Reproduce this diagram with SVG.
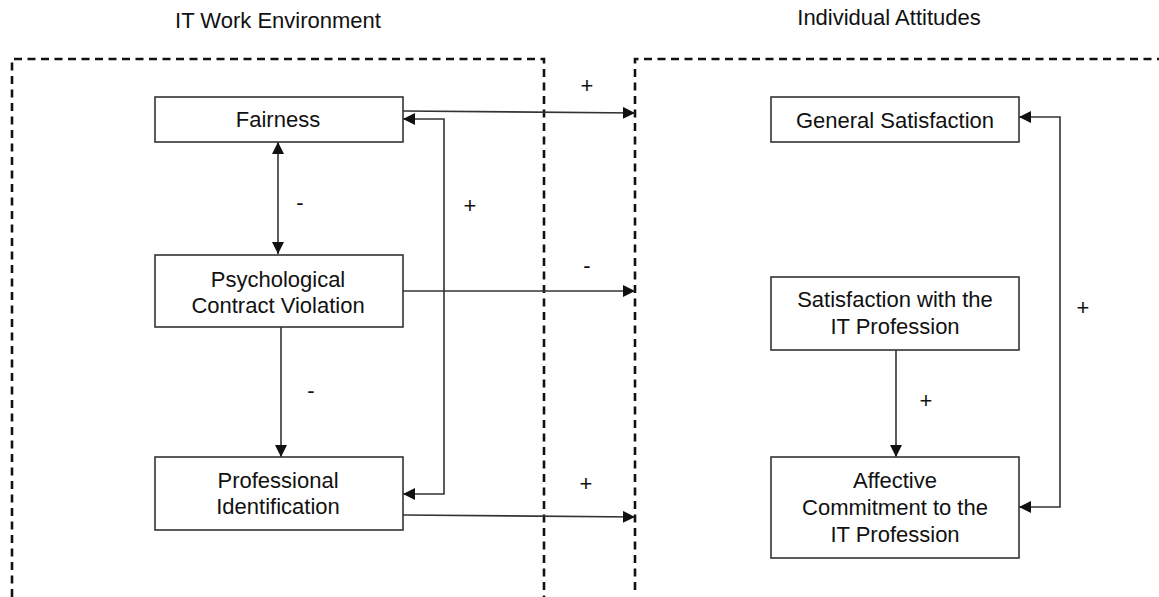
<svg xmlns="http://www.w3.org/2000/svg" width="1159" height="597" viewBox="0 0 1159 597">
<defs>
<style>
.box{fill:#fff;stroke:#333;stroke-width:1.6}
.t{font-family:"Liberation Sans",Arial,sans-serif;font-size:22px;fill:#111;text-anchor:middle}
.lbl{font-family:"Liberation Sans",Arial,sans-serif;font-size:22px;fill:#111;text-anchor:middle}
.dash{fill:none;stroke:#111;stroke-width:2.6;stroke-dasharray:8,5.5}
.c{fill:none;stroke:#333;stroke-width:1.6}
</style>
<marker id="ah" markerUnits="userSpaceOnUse" markerWidth="13" markerHeight="12" refX="12" refY="6" orient="auto-start-reverse">
<path d="M0,0 L12,6 L0,12 z" fill="#111"/>
</marker>
</defs>
<rect width="1159" height="597" fill="#fff"/>
<g id="regions">
<path class="dash" d="M12,597 V59 H544 V597"/>
<path class="dash" d="M635,590 V59 H1159"/>
<text class="t" x="278" y="28">IT Work Environment</text>
<text class="t" x="889" y="25">Individual Attitudes</text>
</g>
<g id="connectors">
<path class="c" d="M278,142 V254" marker-start="url(#ah)" marker-end="url(#ah)"/>
<path class="c" d="M281,327 V457" marker-end="url(#ah)"/>
<path class="c" d="M403,494 H444 V119 H403" marker-start="url(#ah)" marker-end="url(#ah)"/>
<path class="c" d="M403,111 L635,113" marker-end="url(#ah)"/>
<path class="c" d="M403,291 H635" marker-end="url(#ah)"/>
<path class="c" d="M403,515 L635,517" marker-end="url(#ah)"/>
<path class="c" d="M896,350 V457" marker-end="url(#ah)"/>
<path class="c" d="M1019,117 H1060 V507 H1019" marker-start="url(#ah)" marker-end="url(#ah)"/>
<text class="lbl" x="300" y="210">-</text>
<text class="lbl" x="311" y="398">-</text>
<text class="lbl" x="470" y="213">+</text>
<text class="lbl" x="587" y="93">+</text>
<text class="lbl" x="587" y="273">-</text>
<text class="lbl" x="586" y="491">+</text>
<text class="lbl" x="926" y="408">+</text>
<text class="lbl" x="1083" y="315">+</text>
</g>
<g id="fairness">
<rect class="box" x="155" y="97" width="248" height="45"/>
<text class="t" x="278" y="127">Fairness</text>
</g>
<g id="pcv">
<rect class="box" x="155" y="255" width="248" height="72"/>
<text class="t" x="278" y="287">Psychological</text>
<text class="t" x="278" y="313">Contract Violation</text>
</g>
<g id="pi">
<rect class="box" x="155" y="457" width="248" height="73"/>
<text class="t" x="278" y="488">Professional</text>
<text class="t" x="278" y="514">Identification</text>
</g>
<g id="gs">
<rect class="box" x="771" y="97" width="248" height="45"/>
<text class="t" x="895" y="128">General Satisfaction</text>
</g>
<g id="sitp">
<rect class="box" x="771" y="277" width="248" height="73"/>
<text class="t" x="895" y="307">Satisfaction with the</text>
<text class="t" x="895" y="334">IT Profession</text>
</g>
<g id="ac">
<rect class="box" x="771" y="457" width="248" height="101"/>
<text class="t" x="895" y="488">Affective</text>
<text class="t" x="895" y="515">Commitment to the</text>
<text class="t" x="895" y="542">IT Profession</text>
</g>
</svg>
